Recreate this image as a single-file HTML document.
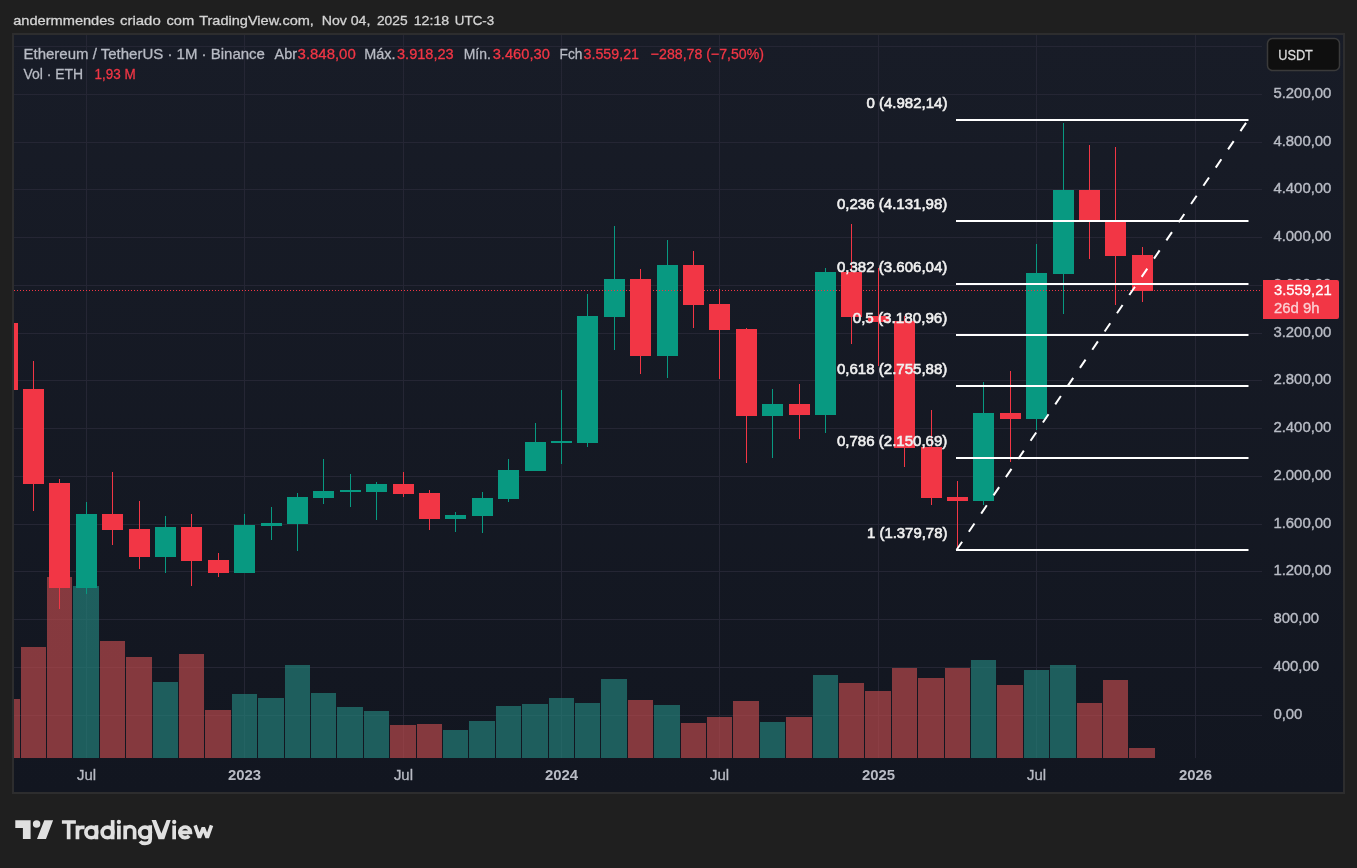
<!DOCTYPE html><html><head><meta charset="utf-8"><style>
html,body{margin:0;padding:0;background:#1f1f1f;width:1357px;height:868px;overflow:hidden}
svg{display:block;will-change:transform}
text{font-family:"Liberation Sans",sans-serif}
</style></head><body>
<svg width="1357" height="868" viewBox="0 0 1357 868">
<defs><linearGradient id="bg" x1="0" y1="0" x2="0" y2="1"><stop offset="0" stop-color="#181c27"/><stop offset="1" stop-color="#121620"/></linearGradient>
<clipPath id="pane"><rect x="14" y="35" width="1248" height="723"/></clipPath></defs>
<text x="13.2" y="24.8" font-size="13.5" fill="#d4d4d4" stroke="#d4d4d4" stroke-width="0.3" textLength="101.5" lengthAdjust="spacingAndGlyphs">andermmendes</text>
<text x="120" y="24.8" font-size="13.5" fill="#d4d4d4" stroke="#d4d4d4" stroke-width="0.3" textLength="40.7" lengthAdjust="spacingAndGlyphs">criado</text>
<text x="166.4" y="24.8" font-size="13.5" fill="#d4d4d4" stroke="#d4d4d4" stroke-width="0.3" textLength="27.8" lengthAdjust="spacingAndGlyphs">com</text>
<text x="199.2" y="24.8" font-size="13.5" fill="#d4d4d4" stroke="#d4d4d4" stroke-width="0.3" textLength="114.7" lengthAdjust="spacingAndGlyphs">TradingView.com,</text>
<text x="321.7" y="24.8" font-size="13.5" fill="#d4d4d4" stroke="#d4d4d4" stroke-width="0.3" textLength="48.7" lengthAdjust="spacingAndGlyphs">Nov 04,</text>
<text x="376.9" y="24.8" font-size="13.5" fill="#d4d4d4" stroke="#d4d4d4" stroke-width="0.3" textLength="30.7" lengthAdjust="spacingAndGlyphs">2025</text>
<text x="413.7" y="24.8" font-size="13.5" fill="#d4d4d4" stroke="#d4d4d4" stroke-width="0.3" textLength="35.6" lengthAdjust="spacingAndGlyphs">12:18</text>
<text x="454.8" y="24.8" font-size="13.5" fill="#d4d4d4" stroke="#d4d4d4" stroke-width="0.3" textLength="39.4" lengthAdjust="spacingAndGlyphs">UTC-3</text>
<rect x="12" y="33" width="1333" height="761" fill="#2d2d2e"/>
<rect x="14" y="35" width="1329" height="757" fill="url(#bg)"/>
<path d="M14 715.5H1262M14 667.5H1262M14 619.5H1262M14 571.5H1262M14 524.5H1262M14 476.5H1262M14 428.5H1262M14 380.5H1262M14 333.5H1262M14 285.5H1262M14 237.5H1262M14 189.5H1262M14 142.5H1262M14 94.5H1262M14 46.5H1262M86.5 35V758M244.5 35V758M403.5 35V758M561.5 35V758M719.5 35V758M878.5 35V758M1036.5 35V758M1195.5 35V758" stroke="#252634" stroke-width="1" fill="none"/>
<g clip-path="url(#pane)">
<rect x="14" y="699" width="6" height="59" fill="rgba(183,73,76,0.7)" shape-rendering="crispEdges"/>
<rect x="21" y="647" width="25" height="111" fill="rgba(183,73,76,0.7)" shape-rendering="crispEdges"/>
<rect x="47" y="577" width="25" height="181" fill="rgba(183,73,76,0.7)" shape-rendering="crispEdges"/>
<rect x="73" y="586" width="26" height="172" fill="rgba(36,125,119,0.7)" shape-rendering="crispEdges"/>
<rect x="100" y="641" width="25" height="117" fill="rgba(183,73,76,0.7)" shape-rendering="crispEdges"/>
<rect x="126" y="657" width="26" height="101" fill="rgba(183,73,76,0.7)" shape-rendering="crispEdges"/>
<rect x="153" y="682" width="25" height="76" fill="rgba(36,125,119,0.7)" shape-rendering="crispEdges"/>
<rect x="179" y="654" width="25" height="104" fill="rgba(183,73,76,0.7)" shape-rendering="crispEdges"/>
<rect x="205" y="710" width="26" height="48" fill="rgba(183,73,76,0.7)" shape-rendering="crispEdges"/>
<rect x="232" y="694" width="25" height="64" fill="rgba(36,125,119,0.7)" shape-rendering="crispEdges"/>
<rect x="258" y="698" width="26" height="60" fill="rgba(36,125,119,0.7)" shape-rendering="crispEdges"/>
<rect x="285" y="665" width="25" height="93" fill="rgba(36,125,119,0.7)" shape-rendering="crispEdges"/>
<rect x="311" y="693" width="25" height="65" fill="rgba(36,125,119,0.7)" shape-rendering="crispEdges"/>
<rect x="337" y="707" width="26" height="51" fill="rgba(36,125,119,0.7)" shape-rendering="crispEdges"/>
<rect x="364" y="711" width="25" height="47" fill="rgba(36,125,119,0.7)" shape-rendering="crispEdges"/>
<rect x="390" y="725" width="26" height="33" fill="rgba(183,73,76,0.7)" shape-rendering="crispEdges"/>
<rect x="417" y="724" width="25" height="34" fill="rgba(183,73,76,0.7)" shape-rendering="crispEdges"/>
<rect x="443" y="730" width="25" height="28" fill="rgba(36,125,119,0.7)" shape-rendering="crispEdges"/>
<rect x="469" y="721" width="26" height="37" fill="rgba(36,125,119,0.7)" shape-rendering="crispEdges"/>
<rect x="496" y="706" width="25" height="52" fill="rgba(36,125,119,0.7)" shape-rendering="crispEdges"/>
<rect x="522" y="704" width="26" height="54" fill="rgba(36,125,119,0.7)" shape-rendering="crispEdges"/>
<rect x="549" y="698" width="25" height="60" fill="rgba(36,125,119,0.7)" shape-rendering="crispEdges"/>
<rect x="575" y="703" width="25" height="55" fill="rgba(36,125,119,0.7)" shape-rendering="crispEdges"/>
<rect x="601" y="679" width="26" height="79" fill="rgba(36,125,119,0.7)" shape-rendering="crispEdges"/>
<rect x="628" y="700" width="25" height="58" fill="rgba(183,73,76,0.7)" shape-rendering="crispEdges"/>
<rect x="654" y="705" width="26" height="53" fill="rgba(36,125,119,0.7)" shape-rendering="crispEdges"/>
<rect x="681" y="723" width="25" height="35" fill="rgba(183,73,76,0.7)" shape-rendering="crispEdges"/>
<rect x="707" y="717" width="25" height="41" fill="rgba(183,73,76,0.7)" shape-rendering="crispEdges"/>
<rect x="733" y="701" width="26" height="57" fill="rgba(183,73,76,0.7)" shape-rendering="crispEdges"/>
<rect x="760" y="722" width="25" height="36" fill="rgba(36,125,119,0.7)" shape-rendering="crispEdges"/>
<rect x="786" y="717" width="26" height="41" fill="rgba(183,73,76,0.7)" shape-rendering="crispEdges"/>
<rect x="813" y="675" width="25" height="83" fill="rgba(36,125,119,0.7)" shape-rendering="crispEdges"/>
<rect x="839" y="683" width="25" height="75" fill="rgba(183,73,76,0.7)" shape-rendering="crispEdges"/>
<rect x="865" y="691" width="26" height="67" fill="rgba(183,73,76,0.7)" shape-rendering="crispEdges"/>
<rect x="892" y="668" width="25" height="90" fill="rgba(183,73,76,0.7)" shape-rendering="crispEdges"/>
<rect x="918" y="678" width="26" height="80" fill="rgba(183,73,76,0.7)" shape-rendering="crispEdges"/>
<rect x="945" y="668" width="25" height="90" fill="rgba(183,73,76,0.7)" shape-rendering="crispEdges"/>
<rect x="971" y="660" width="25" height="98" fill="rgba(36,125,119,0.7)" shape-rendering="crispEdges"/>
<rect x="997" y="685" width="26" height="73" fill="rgba(183,73,76,0.7)" shape-rendering="crispEdges"/>
<rect x="1024" y="670" width="25" height="88" fill="rgba(36,125,119,0.7)" shape-rendering="crispEdges"/>
<rect x="1050" y="665" width="26" height="93" fill="rgba(36,125,119,0.7)" shape-rendering="crispEdges"/>
<rect x="1077" y="703" width="25" height="55" fill="rgba(183,73,76,0.7)" shape-rendering="crispEdges"/>
<rect x="1103" y="680" width="25" height="78" fill="rgba(183,73,76,0.7)" shape-rendering="crispEdges"/>
<rect x="1129" y="748" width="26" height="10" fill="rgba(183,73,76,0.7)" shape-rendering="crispEdges"/>
<rect x="-3" y="323" width="21" height="67" fill="#F23645" shape-rendering="crispEdges"/>
<rect x="33" y="361" width="1" height="150" fill="#F23645" shape-rendering="crispEdges"/>
<rect x="23" y="389" width="21" height="95" fill="#F23645" shape-rendering="crispEdges"/>
<rect x="59" y="479" width="1" height="130" fill="#F23645" shape-rendering="crispEdges"/>
<rect x="49" y="483" width="21" height="105" fill="#F23645" shape-rendering="crispEdges"/>
<rect x="86" y="502" width="1" height="92" fill="#089981" shape-rendering="crispEdges"/>
<rect x="76" y="514" width="21" height="74" fill="#089981" shape-rendering="crispEdges"/>
<rect x="112" y="472" width="1" height="73" fill="#F23645" shape-rendering="crispEdges"/>
<rect x="102" y="514" width="21" height="16" fill="#F23645" shape-rendering="crispEdges"/>
<rect x="139" y="501" width="1" height="68" fill="#F23645" shape-rendering="crispEdges"/>
<rect x="129" y="529" width="21" height="28" fill="#F23645" shape-rendering="crispEdges"/>
<rect x="165" y="516" width="1" height="57" fill="#089981" shape-rendering="crispEdges"/>
<rect x="155" y="527" width="21" height="30" fill="#089981" shape-rendering="crispEdges"/>
<rect x="191" y="514" width="1" height="72" fill="#F23645" shape-rendering="crispEdges"/>
<rect x="181" y="527" width="21" height="34" fill="#F23645" shape-rendering="crispEdges"/>
<rect x="218" y="553" width="1" height="24" fill="#F23645" shape-rendering="crispEdges"/>
<rect x="208" y="560" width="21" height="13" fill="#F23645" shape-rendering="crispEdges"/>
<rect x="244" y="514" width="1" height="59" fill="#089981" shape-rendering="crispEdges"/>
<rect x="234" y="525" width="21" height="48" fill="#089981" shape-rendering="crispEdges"/>
<rect x="271" y="507" width="1" height="33" fill="#089981" shape-rendering="crispEdges"/>
<rect x="261" y="523" width="21" height="3" fill="#089981" shape-rendering="crispEdges"/>
<rect x="297" y="493" width="1" height="58" fill="#089981" shape-rendering="crispEdges"/>
<rect x="287" y="497" width="21" height="27" fill="#089981" shape-rendering="crispEdges"/>
<rect x="323" y="459" width="1" height="45" fill="#089981" shape-rendering="crispEdges"/>
<rect x="313" y="491" width="21" height="7" fill="#089981" shape-rendering="crispEdges"/>
<rect x="350" y="474" width="1" height="33" fill="#089981" shape-rendering="crispEdges"/>
<rect x="340" y="490" width="21" height="2" fill="#089981" shape-rendering="crispEdges"/>
<rect x="376" y="482" width="1" height="38" fill="#089981" shape-rendering="crispEdges"/>
<rect x="366" y="484" width="21" height="8" fill="#089981" shape-rendering="crispEdges"/>
<rect x="403" y="472" width="1" height="25" fill="#F23645" shape-rendering="crispEdges"/>
<rect x="393" y="484" width="21" height="10" fill="#F23645" shape-rendering="crispEdges"/>
<rect x="429" y="490" width="1" height="40" fill="#F23645" shape-rendering="crispEdges"/>
<rect x="419" y="493" width="21" height="26" fill="#F23645" shape-rendering="crispEdges"/>
<rect x="455" y="512" width="1" height="20" fill="#089981" shape-rendering="crispEdges"/>
<rect x="445" y="515" width="21" height="4" fill="#089981" shape-rendering="crispEdges"/>
<rect x="482" y="492" width="1" height="41" fill="#089981" shape-rendering="crispEdges"/>
<rect x="472" y="498" width="21" height="18" fill="#089981" shape-rendering="crispEdges"/>
<rect x="508" y="459" width="1" height="43" fill="#089981" shape-rendering="crispEdges"/>
<rect x="498" y="470" width="21" height="29" fill="#089981" shape-rendering="crispEdges"/>
<rect x="535" y="423" width="1" height="48" fill="#089981" shape-rendering="crispEdges"/>
<rect x="525" y="442" width="21" height="29" fill="#089981" shape-rendering="crispEdges"/>
<rect x="561" y="390" width="1" height="74" fill="#089981" shape-rendering="crispEdges"/>
<rect x="551" y="441" width="21" height="2" fill="#089981" shape-rendering="crispEdges"/>
<rect x="587" y="294" width="1" height="153" fill="#089981" shape-rendering="crispEdges"/>
<rect x="577" y="316" width="21" height="127" fill="#089981" shape-rendering="crispEdges"/>
<rect x="614" y="226" width="1" height="124" fill="#089981" shape-rendering="crispEdges"/>
<rect x="604" y="279" width="21" height="38" fill="#089981" shape-rendering="crispEdges"/>
<rect x="640" y="269" width="1" height="105" fill="#F23645" shape-rendering="crispEdges"/>
<rect x="630" y="279" width="21" height="77" fill="#F23645" shape-rendering="crispEdges"/>
<rect x="667" y="240" width="1" height="138" fill="#089981" shape-rendering="crispEdges"/>
<rect x="657" y="265" width="21" height="91" fill="#089981" shape-rendering="crispEdges"/>
<rect x="693" y="251" width="1" height="77" fill="#F23645" shape-rendering="crispEdges"/>
<rect x="683" y="265" width="21" height="40" fill="#F23645" shape-rendering="crispEdges"/>
<rect x="719" y="289" width="1" height="90" fill="#F23645" shape-rendering="crispEdges"/>
<rect x="709" y="304" width="21" height="26" fill="#F23645" shape-rendering="crispEdges"/>
<rect x="746" y="328" width="1" height="135" fill="#F23645" shape-rendering="crispEdges"/>
<rect x="736" y="329" width="21" height="87" fill="#F23645" shape-rendering="crispEdges"/>
<rect x="772" y="389" width="1" height="69" fill="#089981" shape-rendering="crispEdges"/>
<rect x="762" y="404" width="21" height="12" fill="#089981" shape-rendering="crispEdges"/>
<rect x="799" y="384" width="1" height="55" fill="#F23645" shape-rendering="crispEdges"/>
<rect x="789" y="404" width="21" height="11" fill="#F23645" shape-rendering="crispEdges"/>
<rect x="825" y="268" width="1" height="165" fill="#089981" shape-rendering="crispEdges"/>
<rect x="815" y="272" width="21" height="143" fill="#089981" shape-rendering="crispEdges"/>
<rect x="851" y="224" width="1" height="120" fill="#F23645" shape-rendering="crispEdges"/>
<rect x="841" y="272" width="21" height="45" fill="#F23645" shape-rendering="crispEdges"/>
<rect x="878" y="268" width="1" height="98" fill="#F23645" shape-rendering="crispEdges"/>
<rect x="868" y="316" width="21" height="6" fill="#F23645" shape-rendering="crispEdges"/>
<rect x="904" y="316" width="1" height="151" fill="#F23645" shape-rendering="crispEdges"/>
<rect x="894" y="321" width="21" height="127" fill="#F23645" shape-rendering="crispEdges"/>
<rect x="931" y="410" width="1" height="95" fill="#F23645" shape-rendering="crispEdges"/>
<rect x="921" y="447" width="21" height="51" fill="#F23645" shape-rendering="crispEdges"/>
<rect x="957" y="481" width="1" height="68" fill="#F23645" shape-rendering="crispEdges"/>
<rect x="947" y="497" width="21" height="4" fill="#F23645" shape-rendering="crispEdges"/>
<rect x="983" y="382" width="1" height="123" fill="#089981" shape-rendering="crispEdges"/>
<rect x="973" y="413" width="21" height="88" fill="#089981" shape-rendering="crispEdges"/>
<rect x="1010" y="371" width="1" height="91" fill="#F23645" shape-rendering="crispEdges"/>
<rect x="1000" y="413" width="21" height="6" fill="#F23645" shape-rendering="crispEdges"/>
<rect x="1036" y="244" width="1" height="186" fill="#089981" shape-rendering="crispEdges"/>
<rect x="1026" y="273" width="21" height="146" fill="#089981" shape-rendering="crispEdges"/>
<rect x="1063" y="123" width="1" height="191" fill="#089981" shape-rendering="crispEdges"/>
<rect x="1053" y="190" width="21" height="84" fill="#089981" shape-rendering="crispEdges"/>
<rect x="1089" y="145" width="1" height="114" fill="#F23645" shape-rendering="crispEdges"/>
<rect x="1079" y="190" width="21" height="30" fill="#F23645" shape-rendering="crispEdges"/>
<rect x="1115" y="147" width="1" height="158" fill="#F23645" shape-rendering="crispEdges"/>
<rect x="1105" y="222" width="21" height="34" fill="#F23645" shape-rendering="crispEdges"/>
<rect x="1142" y="247" width="1" height="55" fill="#F23645" shape-rendering="crispEdges"/>
<rect x="1132" y="255" width="21" height="36" fill="#F23645" shape-rendering="crispEdges"/>
<path d="M14 290.5H1262" stroke="#F23645" stroke-width="1" stroke-dasharray="1 2"/>
<rect x="956" y="119" width="292.5" height="2" fill="#ffffff"/>
<rect x="956" y="220" width="292.5" height="2" fill="#ffffff"/>
<rect x="956" y="283" width="292.5" height="2" fill="#ffffff"/>
<rect x="956" y="334" width="292.5" height="2" fill="#ffffff"/>
<rect x="956" y="385" width="292.5" height="2" fill="#ffffff"/>
<rect x="956" y="457" width="292.5" height="2" fill="#ffffff"/>
<rect x="956" y="549" width="292.5" height="2" fill="#ffffff"/>
<path d="M956.5 550L1248 120" stroke="#ffffff" stroke-width="2" stroke-dasharray="10 12"/>
</g>
<text x="947.4" y="108.4" font-size="15" fill="#f0f0f0" stroke="#f0f0f0" stroke-width="0.6" text-anchor="end" textLength="81.0" lengthAdjust="spacingAndGlyphs">0 (4.982,14)</text>
<text x="947.4" y="209.4" font-size="15" fill="#f0f0f0" stroke="#f0f0f0" stroke-width="0.6" text-anchor="end" textLength="110.5" lengthAdjust="spacingAndGlyphs">0,236 (4.131,98)</text>
<text x="947.4" y="272.4" font-size="15" fill="#f0f0f0" stroke="#f0f0f0" stroke-width="0.6" text-anchor="end" textLength="110.5" lengthAdjust="spacingAndGlyphs">0,382 (3.606,04)</text>
<text x="947.4" y="323.4" font-size="15" fill="#f0f0f0" stroke="#f0f0f0" stroke-width="0.6" text-anchor="end" textLength="94.7" lengthAdjust="spacingAndGlyphs">0,5 (3.180,96)</text>
<text x="947.4" y="374.4" font-size="15" fill="#f0f0f0" stroke="#f0f0f0" stroke-width="0.6" text-anchor="end" textLength="110.5" lengthAdjust="spacingAndGlyphs">0,618 (2.755,88)</text>
<text x="947.4" y="446.4" font-size="15" fill="#f0f0f0" stroke="#f0f0f0" stroke-width="0.6" text-anchor="end" textLength="110.5" lengthAdjust="spacingAndGlyphs">0,786 (2.150,69)</text>
<text x="947.4" y="538.4" font-size="15" fill="#f0f0f0" stroke="#f0f0f0" stroke-width="0.6" text-anchor="end" textLength="80.4" lengthAdjust="spacingAndGlyphs">1 (1.379,78)</text>
<text x="1273.4" y="719.2" font-size="14.9" fill="#b8bbc4" stroke="#b8bbc4" stroke-width="0.4" textLength="29.0" lengthAdjust="spacingAndGlyphs">0,00</text>
<text x="1273.4" y="671.2" font-size="14.9" fill="#b8bbc4" stroke="#b8bbc4" stroke-width="0.4" textLength="45.6" lengthAdjust="spacingAndGlyphs">400,00</text>
<text x="1273.4" y="623.2" font-size="14.9" fill="#b8bbc4" stroke="#b8bbc4" stroke-width="0.4" textLength="45.6" lengthAdjust="spacingAndGlyphs">800,00</text>
<text x="1273.4" y="575.2" font-size="14.9" fill="#b8bbc4" stroke="#b8bbc4" stroke-width="0.4" textLength="58.0" lengthAdjust="spacingAndGlyphs">1.200,00</text>
<text x="1273.4" y="528.2" font-size="14.9" fill="#b8bbc4" stroke="#b8bbc4" stroke-width="0.4" textLength="58.0" lengthAdjust="spacingAndGlyphs">1.600,00</text>
<text x="1273.4" y="480.2" font-size="14.9" fill="#b8bbc4" stroke="#b8bbc4" stroke-width="0.4" textLength="58.0" lengthAdjust="spacingAndGlyphs">2.000,00</text>
<text x="1273.4" y="432.2" font-size="14.9" fill="#b8bbc4" stroke="#b8bbc4" stroke-width="0.4" textLength="58.0" lengthAdjust="spacingAndGlyphs">2.400,00</text>
<text x="1273.4" y="384.2" font-size="14.9" fill="#b8bbc4" stroke="#b8bbc4" stroke-width="0.4" textLength="58.0" lengthAdjust="spacingAndGlyphs">2.800,00</text>
<text x="1273.4" y="337.2" font-size="14.9" fill="#b8bbc4" stroke="#b8bbc4" stroke-width="0.4" textLength="58.0" lengthAdjust="spacingAndGlyphs">3.200,00</text>
<text x="1273.4" y="289.2" font-size="14.9" fill="#b8bbc4" stroke="#b8bbc4" stroke-width="0.4" textLength="58.0" lengthAdjust="spacingAndGlyphs">3.600,00</text>
<text x="1273.4" y="241.2" font-size="14.9" fill="#b8bbc4" stroke="#b8bbc4" stroke-width="0.4" textLength="58.0" lengthAdjust="spacingAndGlyphs">4.000,00</text>
<text x="1273.4" y="193.2" font-size="14.9" fill="#b8bbc4" stroke="#b8bbc4" stroke-width="0.4" textLength="58.0" lengthAdjust="spacingAndGlyphs">4.400,00</text>
<text x="1273.4" y="146.2" font-size="14.9" fill="#b8bbc4" stroke="#b8bbc4" stroke-width="0.4" textLength="58.0" lengthAdjust="spacingAndGlyphs">4.800,00</text>
<text x="1273.4" y="98.2" font-size="14.9" fill="#b8bbc4" stroke="#b8bbc4" stroke-width="0.4" textLength="58.0" lengthAdjust="spacingAndGlyphs">5.200,00</text>
<path d="M1263 280H1337a2 2 0 0 1 2 2V317a2 2 0 0 1 -2 2H1263Z" fill="#F23645"/>
<text x="1274" y="295.3" font-size="14.8" fill="#ffffff" stroke="#ffffff" stroke-width="0.3" textLength="57.7" lengthAdjust="spacingAndGlyphs">3.559,21</text>
<text x="1274" y="313" font-size="14.8" fill="#fbd0d4" stroke="#fbd0d4" stroke-width="0.3" textLength="45.6" lengthAdjust="spacingAndGlyphs">26d 9h</text>
<rect x="1267.5" y="38.5" width="72" height="32" rx="5" fill="#0f0f0f" stroke="#3a3a3a" stroke-width="1.5"/>
<text x="1278.2" y="60" font-size="15.4" fill="#dcdcdc" stroke="#dcdcdc" stroke-width="0.3" textLength="34.7" lengthAdjust="spacingAndGlyphs">USDT</text>
<text x="77.0" y="780.4" font-size="15" fill="#b8bbc4" stroke="#b8bbc4" stroke-width="0.3" textLength="19.1" lengthAdjust="spacingAndGlyphs">Jul</text>
<text x="227.9" y="780.4" font-size="15" fill="#b8bbc4" textLength="33.2" lengthAdjust="spacingAndGlyphs" font-weight="bold">2023</text>
<text x="393.9" y="780.4" font-size="15" fill="#b8bbc4" stroke="#b8bbc4" stroke-width="0.3" textLength="19.1" lengthAdjust="spacingAndGlyphs">Jul</text>
<text x="544.9" y="780.4" font-size="15" fill="#b8bbc4" textLength="33.2" lengthAdjust="spacingAndGlyphs" font-weight="bold">2024</text>
<text x="710.0" y="780.4" font-size="15" fill="#b8bbc4" stroke="#b8bbc4" stroke-width="0.3" textLength="19.1" lengthAdjust="spacingAndGlyphs">Jul</text>
<text x="861.9" y="780.4" font-size="15" fill="#b8bbc4" textLength="33.2" lengthAdjust="spacingAndGlyphs" font-weight="bold">2025</text>
<text x="1027.0" y="780.4" font-size="15" fill="#b8bbc4" stroke="#b8bbc4" stroke-width="0.3" textLength="19.1" lengthAdjust="spacingAndGlyphs">Jul</text>
<text x="1178.9" y="780.4" font-size="15" fill="#b8bbc4" textLength="33.2" lengthAdjust="spacingAndGlyphs" font-weight="bold">2026</text>
<text x="23.5" y="58.9" font-size="15" fill="#b8bbc4" stroke="#b8bbc4" stroke-width="0.3" textLength="241.4" lengthAdjust="spacingAndGlyphs">Ethereum / TetherUS · 1M · Binance</text>
<text x="23.5" y="79.4" font-size="15" fill="#b8bbc4" stroke="#b8bbc4" stroke-width="0.3" textLength="59.7" lengthAdjust="spacingAndGlyphs">Vol · ETH</text>
<text x="94.6" y="79.4" font-size="15" fill="#F23645" stroke="#F23645" stroke-width="0.3" textLength="41.1" lengthAdjust="spacingAndGlyphs">1,93 M</text>
<text x="274.6" y="58.9" font-size="15" fill="#b8bbc4" stroke="#b8bbc4" stroke-width="0.3" textLength="22.4" lengthAdjust="spacingAndGlyphs">Abr</text>
<text x="297.6" y="58.9" font-size="15" fill="#F23645" stroke="#F23645" stroke-width="0.3" textLength="58.1" lengthAdjust="spacingAndGlyphs">3.848,00</text>
<text x="364.2" y="58.9" font-size="15" fill="#b8bbc4" stroke="#b8bbc4" stroke-width="0.3" textLength="31.2" lengthAdjust="spacingAndGlyphs">Máx.</text>
<text x="397" y="58.9" font-size="15" fill="#F23645" stroke="#F23645" stroke-width="0.3" textLength="56.7" lengthAdjust="spacingAndGlyphs">3.918,23</text>
<text x="463.7" y="58.9" font-size="15" fill="#b8bbc4" stroke="#b8bbc4" stroke-width="0.3" textLength="27.1" lengthAdjust="spacingAndGlyphs">Mín.</text>
<text x="492.7" y="58.9" font-size="15" fill="#F23645" stroke="#F23645" stroke-width="0.3" textLength="57.1" lengthAdjust="spacingAndGlyphs">3.460,30</text>
<text x="559.5" y="58.9" font-size="15" fill="#b8bbc4" stroke="#b8bbc4" stroke-width="0.3" textLength="22.9" lengthAdjust="spacingAndGlyphs">Fch</text>
<text x="583.5" y="58.9" font-size="15" fill="#F23645" stroke="#F23645" stroke-width="0.3" textLength="55.5" lengthAdjust="spacingAndGlyphs">3.559,21</text>
<text x="650.8" y="58.9" font-size="15" fill="#F23645" stroke="#F23645" stroke-width="0.3" textLength="113.2" lengthAdjust="spacingAndGlyphs">−288,78 (−7,50%)</text>
<g fill="#e0e0e0"><path d="M15.3 820.2H30.6V839H22.9V827.9H15.3ZM44.3 820.2H53.1L46 839H37Z"/><circle cx="36.6" cy="824.1" r="3.75"/></g>
<g fill="none" stroke="#e0e0e0" stroke-width="3.7">
<path d="M61.9 822H75.9M68.65 822V839.3"/>
<path d="M77.45 839.3V825.5M77.45 831.5Q77.45 827.35 81.5 827.35H84.6"/>
<circle cx="91.3" cy="832.4" r="5.35"/><path d="M96.4 825.2V839.3"/>
<circle cx="107.5" cy="832.4" r="5.35"/><path d="M112.65 820.1V839.3"/>
<path d="M118.9 825.5V839.3"/>
<path d="M125.2 839.3V825.5M125.2 831.2A4.7 4.7 0 0 1 134.6 831.2V839.3"/>
<circle cx="145" cy="832.4" r="5.35"/><path d="M150.2 825.2V839C150.2 842.6 148 843.4 145 843.4C142.6 843.4 141 842.6 140 841.4"/>
<path d="M174.15 825.5V839.3"/>
<path d="M180 832.3H190.45A5.35 5.35 0 1 0 189.2 835.8"/>
<path d="M195.1 825.3L199.4 837.6L203.3 827.6L207.2 837.6L211.5 825.3" stroke-linejoin="bevel" stroke-width="3.6"/>
</g>
<g fill="#e0e0e0"><circle cx="118.9" cy="822" r="2.15"/><circle cx="174.2" cy="822" r="2.15"/>
<path d="M151.6 820.1H156L161.4 833.6L166.6 820.1H170.7L164.3 839.3H158.5Z"/></g>
</svg></body></html>
